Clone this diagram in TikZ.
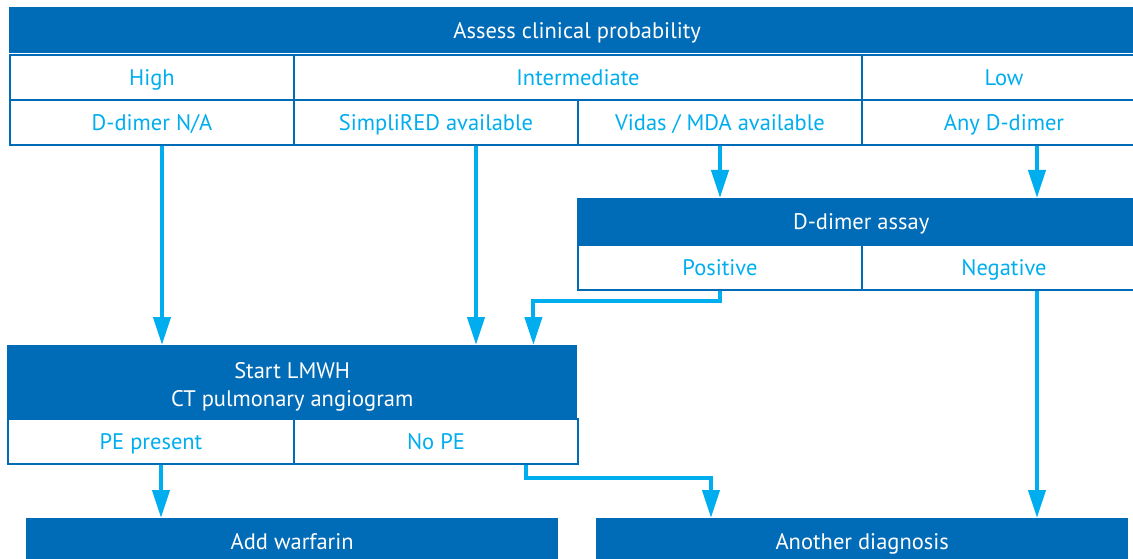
\documentclass[tikz,border=0pt]{standalone}
\usepackage{fontspec}
\setmainfont{PT Sans}
\usetikzlibrary{arrows.meta}
\definecolor{mynavy}{RGB}{0,107,182}
\definecolor{mycyan}{RGB}{0,174,239}

\begin{document}
\begin{tikzpicture}[
  x=1pt, y=-1pt,
  font=\fontsize{22.5}{28}\selectfont,
  myhead/.style={
    fill=mynavy,
    text=white,
    inner sep=0pt,
    anchor=north west,
    text height=18pt,
    text depth=1pt,
    minimum width=#1,
    minimum height=46pt
    },
  mycell/.style={
    draw=mynavy,
    line width=2pt,
    fill=white,
    text=mycyan,
    inner sep=0pt,
    anchor=north west,
    text height=18pt,
    text depth=2pt,
    minimum width=#1,
    minimum height=45pt
    },
  myarrow/.style={
    draw=mycyan,
    line width=4pt,
    -{Triangle[length=28pt,width=17pt]}
  }
]
\clip (0,0) rectangle (1133,559);

% clinical probability
\node[myhead=1136pt] (assess) at (9,7) {Assess clinical probability};
\node[mycell=284pt] (high)  at (9,54)   {High};
\node[mycell=568pt] (inter) at (293,54) {Intermediate};
\node[mycell=284pt] (low)   at (861,54) {Low};
\node[mycell=284pt] (dna)    at (9,99)   {D-dimer N/A};
\node[mycell=284pt] (simpli) at (293,99) {SimpliRED available};
\node[mycell=284pt] (vidas)  at (577,99) {Vidas / MDA available};
\node[mycell=284pt] (anyd)   at (861,99) {Any D-dimer};

% d-dimer
\node[myhead=568pt] (assay) at (577,198) {D-dimer assay};
\node[mycell=284pt] (pos) at (577,244) {Positive};
\node[mycell=284pt] (neg) at (861,244) {Negative};

% imaging
\node[myhead=570pt, minimum height=73pt, text height=50pt, text depth=1pt, align=center] (lmwh) at (7,345)
  {Start LMWH\\CT pulmonary angiogram};
\node[mycell=286pt] (pe)   at (7,418)   {PE present};
\node[mycell=284pt] (nope) at (293,418) {No PE};

% outcome
\node[myhead=532pt] (warfarin) at (26,518)  {Add warfarin};
\node[myhead=532pt] (another)  at (596,518) {Another diagnosis};

\draw[myarrow] ([xshift=10pt]dna.south) -- ([xshift=10pt]dna.south |- lmwh.north);
\draw[myarrow] ([xshift=40pt]simpli.south) -- ([xshift=40pt]simpli.south |- lmwh.north);
\draw[myarrow] (vidas.south) -- (vidas.south |- assay.north);
\draw[myarrow] ([xshift=33pt]anyd.south) -- ([xshift=33pt]anyd.south |- assay.north);
\draw[myarrow] (pos.south) -- ++(0,10) -| ([xshift=-44pt]lmwh.north east);
\draw[myarrow] ([xshift=33pt]neg.south) -- ([xshift=33pt]neg.south |- another.north);
\draw[myarrow] ([xshift=10pt]pe.south) -- ([xshift=10pt]pe.south |- warfarin.north);
\draw[myarrow] ([xshift=-53pt]nope.south east) -- ++(0,13) -| ([xshift=115pt]another.north west);

\end{tikzpicture}
\end{document}
